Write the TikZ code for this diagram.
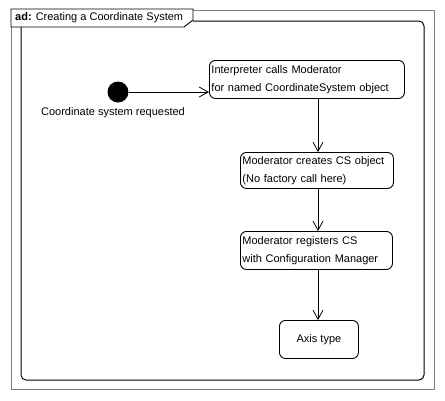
\documentclass[tikz,border=0pt]{standalone}
\usepackage{fontspec}
\setmainfont{Liberation Sans}
\usetikzlibrary{arrows.meta}
\begin{document}
\begin{tikzpicture}[x=1pt,y=-1pt,
  every node/.style={font=\fontsize{11}{17.5}\selectfont},
  actbox/.style={draw, line width=0.9pt, rounded corners=6pt, anchor=north west, inner xsep=2pt, inner ysep=0pt, align=left},
  flow/.style={draw, line width=0.8pt, -{Straight Barb[length=9pt,width=10pt,line width=0.8pt]}}]
\useasboundingbox (0,0) rectangle (445,400);
% outer frame
\draw[gray, line width=1pt] (11,10) rectangle (434,389);
% tab
\draw[fill=white, line width=0.9pt] (11,9) -- (193,9) -- (193,20) -- (184,27) -- (11,27) -- cycle;
\node[anchor=west, inner sep=0pt] (title) at (15,18) {\textbf{ad:} Creating a Coordinate System};
% inner frame
\draw[line width=1pt, rounded corners=5pt] (21,27) -- (21,380) -- (424,380) -- (424,21) -- (193,21);
% start
\node[circle, fill=black, minimum size=21pt, inner sep=0pt] (start) at (118,92) {};
\node (startlbl) at (113,113) {Coordinate system requested};
% boxes
\node[actbox, minimum width=195pt, minimum height=38pt, text width=191pt] (b1) at (209,60) {Interpreter calls Moderator\\for named CoordinateSystem object};
\node[actbox, minimum width=153pt, minimum height=36pt, text width=149pt] (b2) at (240,152) {Moderator creates CS object\\(No factory call here)};
\node[actbox, minimum width=152pt, minimum height=38pt, text width=148pt] (b3) at (240,231) {Moderator registers CS\\with Configuration Manager};
\node[actbox, minimum width=79pt, minimum height=38pt, align=center] (b4) at (279,320) {Axis type};
\coordinate (col) at (318,0);
% connectors
\draw[flow] (start.east) -- (start -| b1.west);
\draw[flow] (b1.south -| col) -- (b2.north -| col);
\draw[flow] (b2.south -| col) -- (b3.north -| col);
\draw[flow] (b3.south -| col) -- (b4.north -| col);
\end{tikzpicture}
\end{document}
